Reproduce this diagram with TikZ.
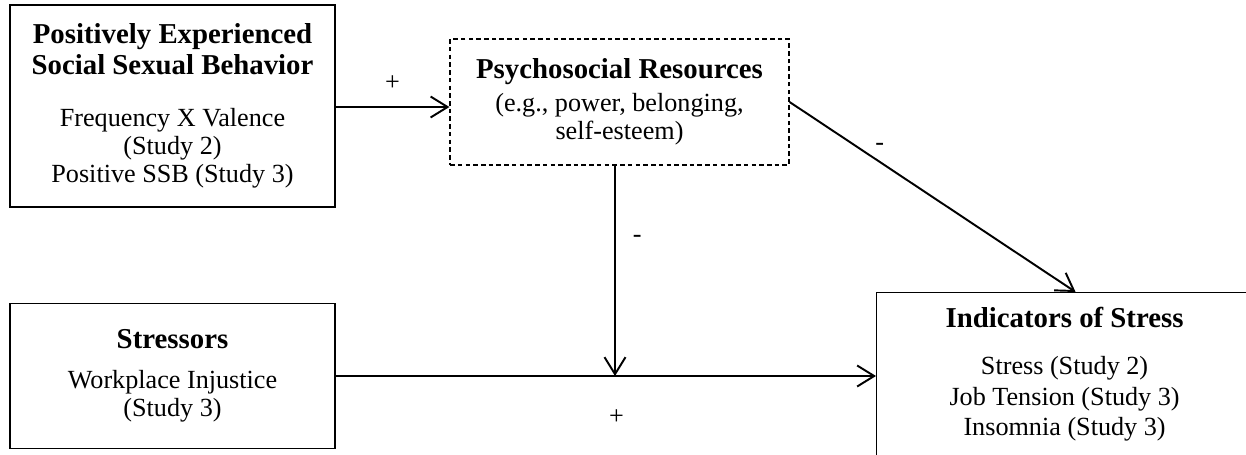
\documentclass[tikz,border=0pt]{standalone}
\usepackage{fontspec}
\setmainfont{Liberation Serif}
\usetikzlibrary{arrows.meta,positioning}
\newcommand{\hd}[1]{{\fontsize{16.4}{17.1}\selectfont\bfseries #1}}

\begin{document}
\begin{tikzpicture}[x=0.02cm,y=-0.02cm,line width=1.1pt,
    >={Straight Barb[length=0.34cm,width=0.42cm]},
    box/.style={draw,line width=0.7pt,align=center,inner sep=0pt},
    sign/.style={inner sep=0.333em},
    font=\fontsize{14.9}{15.9}\selectfont]
  \useasboundingbox (0,0) rectangle (1246,454);
  % boxes
  \node[box,minimum width=6.5cm,minimum height=4.04cm] (ssb) at (172.5,106)
    {\hd{Positively Experienced}\\[1.2pt]\hd{Social Sexual Behavior}\\[14pt]
     Frequency X Valence\\(Study 2)\\Positive SSB (Study 3)};
  \node[box,dash pattern=on 2.6pt off 1.8pt,minimum width=6.78cm,minimum height=2.52cm] (psych) at (619.5,102)
    {\hd{Psychosocial Resources}\\[3pt](e.g., power, belonging,\\self-esteem)};
  \node[box,minimum width=6.5cm,minimum height=2.9cm] (stress) at (172.5,376)
    {\hd{Stressors}\\[7pt]Workplace Injustice\\(Study 3)};
  \node[box,anchor=north west,minimum width=7.52cm,minimum height=4cm] (ind) at (876,292) {};
  \node[align=center,anchor=north,inner sep=0pt] (indtxt) at ([yshift=-0.28cm]ind.north)
    {\hd{Indicators of Stress}\\[11pt]Stress (Study 2)\\[1.5pt]Job Tension (Study 3)\\[1.5pt]Insomnia (Study 3)};

  % paths
  \coordinate (mod) at ([xshift=-0.09cm]psych.south |- stress.east);
  \draw[->] (ssb.east |- 0,107) -- (psych.west |- 0,107) node[sign,midway,above=0.2cm] {+};
  \draw[->] (psych.south -| mod) -- (mod) node[sign,pos=0.35,right=0.22cm] {-};
  \draw[->] (stress.east) -- (stress.east -| ind.west) node[sign,pos=0.52,below=0.53cm] {+};
  \draw[->] (psych.east) -- ([xshift=0.22cm]ind.north) node[sign,pos=0.315,above=0.1cm] {-};
\end{tikzpicture}
\end{document}
